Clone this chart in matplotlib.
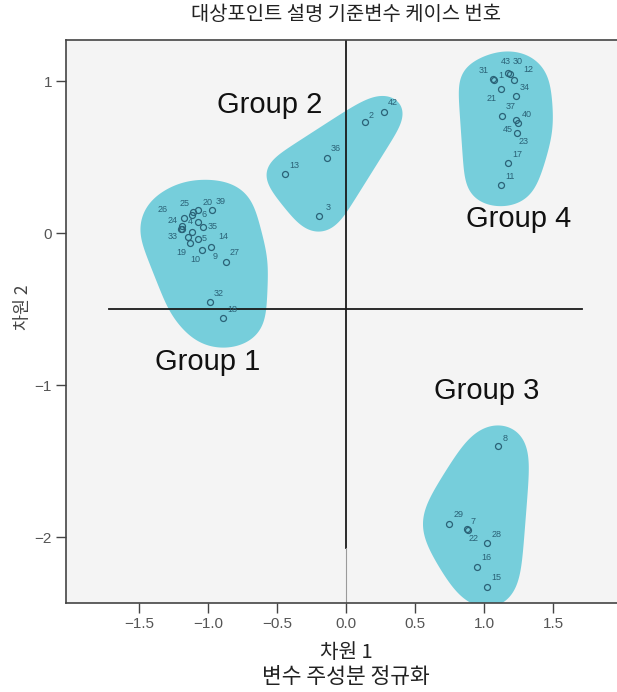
import matplotlib
matplotlib.use('Agg')  # headless
import matplotlib.pyplot as plt
from matplotlib.patches import Polygon
import numpy as np

plt.rcParams['font.family'] = ['Noto Sans CJK KR', 'DejaVu Sans']

# object points (case number, dimension 1, dimension 2), one block per group
g1_cases = ['25', '', '20', '39', '24', '6', '35', '26', '4', '', '33', '19', '5',
            '10', '9', '14', '27', '32', '18']
g1_dim1 = [-1.106, -1.118, -1.070, -0.969, -1.172, -1.075, -1.034, -1.186, -1.198,
           -1.190, -1.114, -1.143, -1.070, -1.130, -1.041, -0.978, -0.872, -0.988, -0.889]
g1_dim2 = [0.136, 0.118, 0.151, 0.151, 0.097, 0.071, 0.038, 0.048, 0.024,
           0.028, 0.009, -0.024, -0.039, -0.068, -0.112, -0.094, -0.189, -0.456, -0.561]

g2_cases = ['42', '2', '36', '13', '3']
g2_dim1 = [0.275, 0.138, -0.140, -0.442, -0.198]
g2_dim2 = [0.798, 0.728, 0.495, 0.388, 0.112]

g3_cases = ['8', '29', '7', '22', '28', '16', '15']
g3_dim1 = [1.104, 0.749, 0.879, 0.884, 1.024, 0.951, 1.024]
g3_dim2 = [-1.399, -1.913, -1.947, -1.954, -2.042, -2.195, -2.327]

g4_cases = ['31', '1', '43', '30', '12', '21', '34', '37', '40', '45', '23', '17', '11']
g4_dim1 = [1.068, 1.076, 1.176, 1.188, 1.220, 1.123, 1.232, 1.130, 1.232, 1.246,
           1.237, 1.176, 1.121]
g4_dim2 = [1.011, 1.007, 1.055, 1.046, 1.007, 0.947, 0.899, 0.772, 0.743, 0.722,
           0.656, 0.459, 0.316]

group_names = ['Group 1', 'Group 2', 'Group 3', 'Group 4']
group_text_x = [-1.0, -0.55, 1.02, 1.25]
group_text_y = [-0.85, 0.84, -1.04, 0.09]

xticks = [-1.5, -1.0, -0.5, 0.0, 0.5, 1.0, 1.5]
yticks = [-2, -1, 0, 1]

# label placement in pixels (right, up); everything else sits up-right
label_off = {'25': (-9, 9), '20': (9, 8), '39': (8, 9), '24': (-12, -2), '6': (6, 8),
             '35': (9, 1), '26': (-20, 16), '4': (10, 8), '33': (-20, -5), '19': (-7, -16),
             '5': (6, 0), '10': (5, -16), '9': (13, -6), '14': (12, 11),
             '31': (-10, 9), '1': (6, 4), '43': (-2, 11), '30': (8, 13), '12': (14, 10),
             '21': (-9, -9), '40': (11, 6), '45': (-10, -6), '23': (7, -8),
             '8': (7, 7), '7': (6, 7), '22': (6, -8), '2': (6, 7)}
# blob padding in pixels (x, y) around each group, and how much to round it
blob_pad = [(43, 31), (23, 19), (33, 26), (36, 23)]
blob_round = [14, 14, 22, 14]

XPX, YPX = 138.0, 152.0  # pixels per data unit
BLOB = '#76CEDB'
MARK = '#2b6277'


def hull(pts):
    pts = sorted(map(tuple, pts))
    def cross(o, a, b):
        return (a[0]-o[0])*(b[1]-o[1]) - (a[1]-o[1])*(b[0]-o[0])
    lower, upper = [], []
    for p in pts:
        while len(lower) >= 2 and cross(lower[-2], lower[-1], p) <= 0:
            lower.pop()
        lower.append(p)
    for p in reversed(pts):
        while len(upper) >= 2 and cross(upper[-2], upper[-1], p) <= 0:
            upper.pop()
        upper.append(p)
    return np.array(lower[:-1] + upper[:-1])


def smooth_closed(P, n=300, sigma=14.0):
    # resample outline evenly (pixel space) and blur it round the loop
    C = np.vstack([P, P[:1]])
    seg = np.hypot(*np.diff(C, axis=0).T)
    cum = np.concatenate([[0], np.cumsum(seg)])
    s = np.linspace(0, cum[-1], n, endpoint=False)
    x = np.interp(s, cum, C[:, 0])
    y = np.interp(s, cum, C[:, 1])
    sig = sigma / (cum[-1] / n)
    k = np.arange(-n//2, n//2)
    g = np.exp(-0.5 * (k / sig)**2)
    g = np.fft.ifftshift(g / g.sum())
    xs = np.real(np.fft.ifft(np.fft.fft(x) * np.fft.fft(g)))
    ys = np.real(np.fft.ifft(np.fft.fft(y) * np.fft.fft(g)))
    return np.column_stack([xs, ys])


def blob(ax, xs, ys, pad, rnd):
    t = np.linspace(0, 2*np.pi, 72, endpoint=False)
    pts = np.concatenate([np.column_stack([x*XPX + pad[0]*np.cos(t), y*YPX + pad[1]*np.sin(t)])
                          for x, y in zip(xs, ys)])
    outline = smooth_closed(hull(pts), sigma=rnd)
    outline = outline / [XPX, YPX]
    ax.add_patch(Polygon(outline, closed=True, fc=BLOB, ec='none', zorder=1))


fig = plt.figure(figsize=(6.17, 6.92), dpi=100)
ax = fig.add_axes([66/617, 89/692, 551/617, 563/692])
ax.set_facecolor('#F4F4F4')
ax.set_xlim(-2.029, 1.964)
ax.set_ylim(-2.434, 1.270)

groups = [(g1_cases, g1_dim1, g1_dim2), (g2_cases, g2_dim1, g2_dim2),
          (g3_cases, g3_dim1, g3_dim2), (g4_cases, g4_dim1, g4_dim2)]
for (cases, d1, d2), pad, rnd in zip(groups, blob_pad, blob_round):
    blob(ax, d1, d2, pad, rnd)

# reference lines
ax.plot([0, 0], [1.27, -2.07], color='#1a1a1a', lw=1.3, zorder=2)
ax.plot([0, 0], [-2.07, -2.434], color='#9a9a9a', lw=0.8, zorder=2)
ax.plot([-1.72, 1.71], [-0.5, -0.5], color='#1a1a1a', lw=1.3, zorder=2)

for cases, d1, d2 in groups:
    ax.plot(d1, d2, 'o', mfc='none', mec=MARK, ms=4.3, mew=0.9, zorder=3)
    for c, x, y in zip(cases, d1, d2):
        if not c:
            continue
        dx, dy = label_off.get(c, (9, 9))
        ax.annotate(c, (x, y), xytext=(dx*0.72, dy*0.72), textcoords='offset points',
                    ha='center', va='center', fontsize=6.5, color=MARK,
                    family='Liberation Sans', zorder=4)

for name, x, y in zip(group_names, group_text_x, group_text_y):
    ax.text(x, y, name, fontsize=21, family='Liberation Sans', ha='center',
            va='center', color='#111', zorder=5)

ax.set_xticks(xticks)
ax.set_xticklabels([f'{v:.1f}'.replace('-', '\u2212') for v in xticks],
                   family='Liberation Sans', fontsize=11, color='#555')
ax.set_yticks(yticks)
ax.set_yticklabels([str(v).replace('-', '\u2212') for v in yticks],
                   family='Liberation Sans', fontsize=11, color='#555')
ax.tick_params(direction='out', length=7, width=1, color='#444', pad=3)
for s in ['top', 'left', 'bottom']:
    ax.spines[s].set_color('#444')
    ax.spines[s].set_linewidth(1.2)
ax.spines['right'].set_visible(False)

fig.text(346/617, 1 - 14/692, '대상포인트 설명 기준변수 케이스 번호', ha='center',
         va='center', fontsize=14.3, color='#222')
fig.text(346/617, 1 - 652/692, '차원 1', ha='center', va='center', fontsize=14.5, color='#222')
fig.text(346/617, 1 - 677/692, '변수 주성분 정규화', ha='center', va='center',
         fontsize=15.5, color='#222')
fig.text(23/617, 1 - 307/692, '차원 2', ha='center', va='center', rotation=90,
         fontsize=12.5, color='#444')

fig.savefig('out.png', dpi=100)
